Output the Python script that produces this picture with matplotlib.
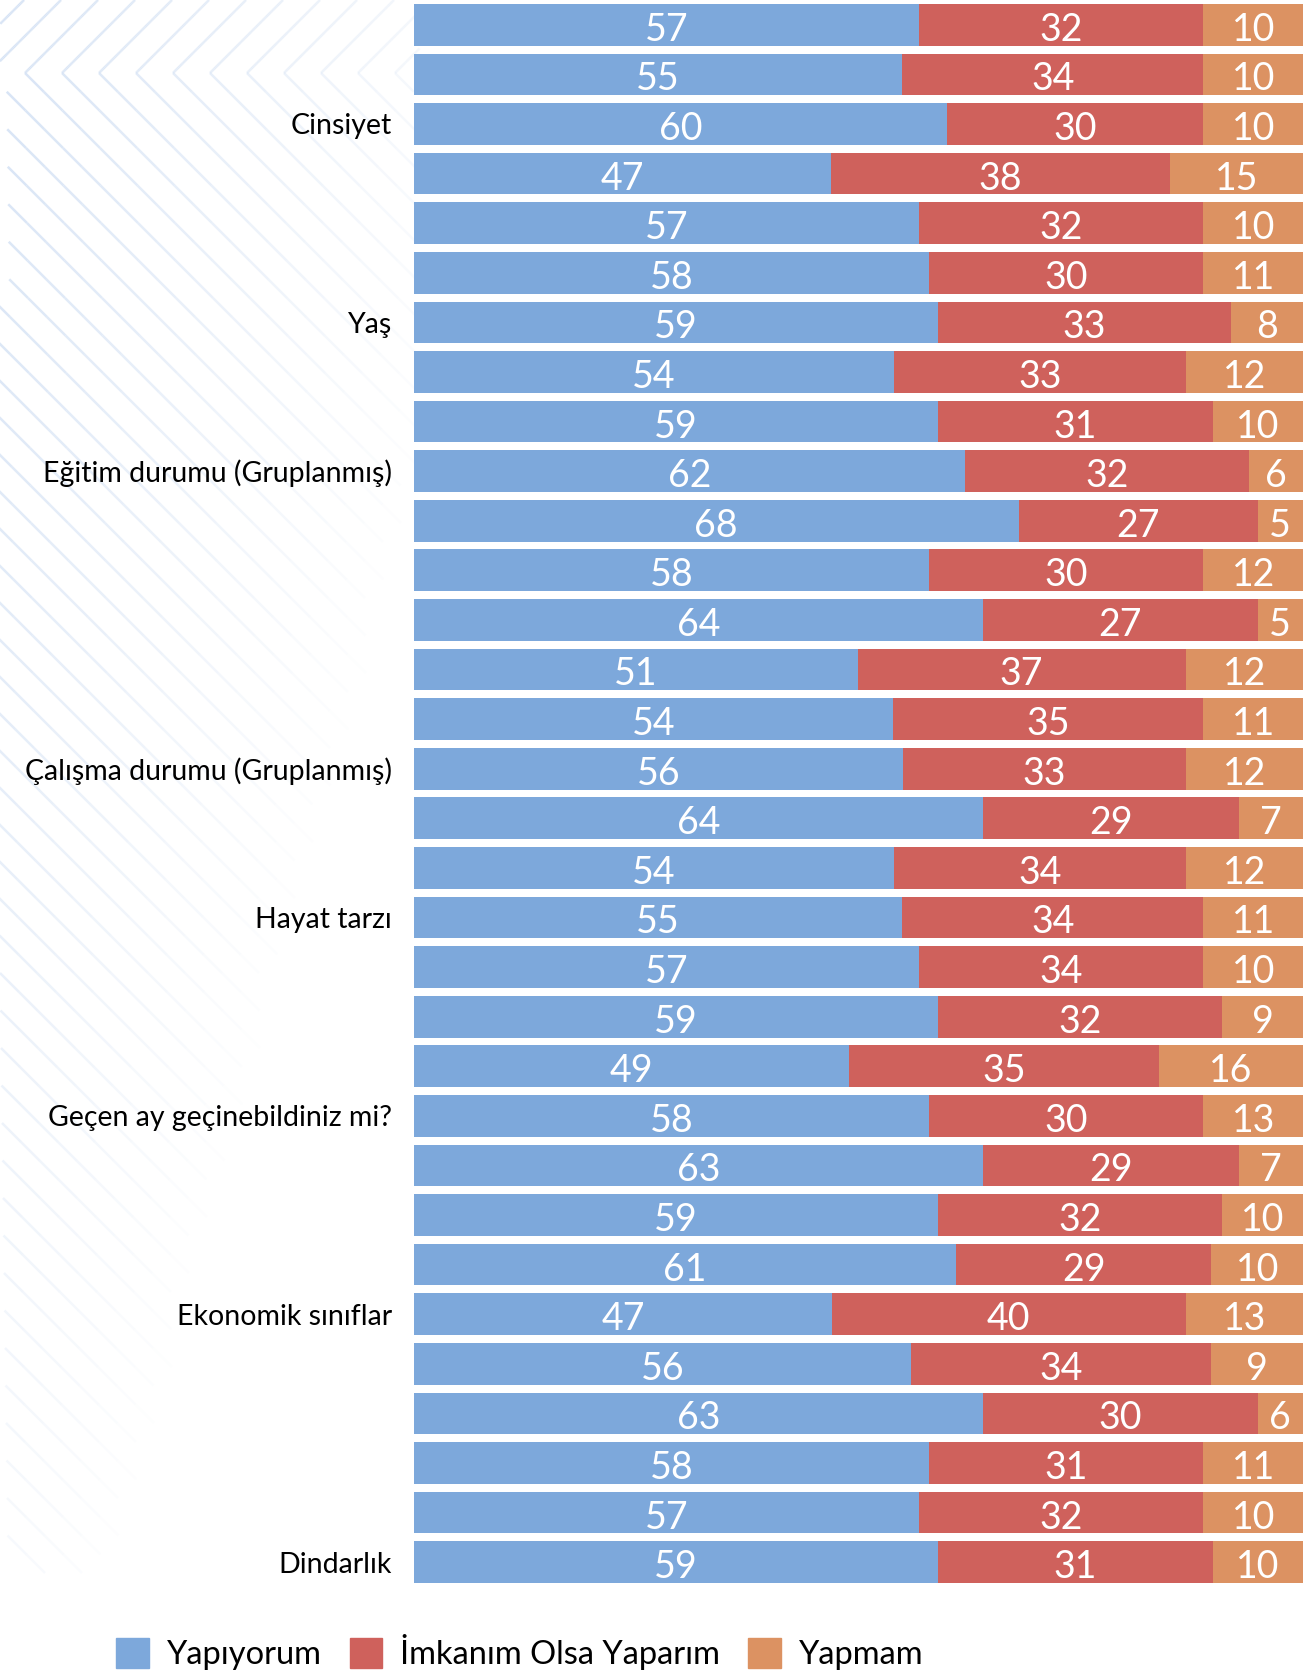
import matplotlib.pyplot as plt
import numpy as np
from matplotlib.collections import LineCollection
from matplotlib.patches import Patch

plt.rcParams['font.family'] = ['Lato', 'DejaVu Sans']

# etiketler (sadece grup satırlarında yazı var)
labels = ['', '', 'Cinsiyet', '', '', '', 'Yaş', '', '', 'Eğitim durumu (Gruplanmış)',
          '', '', '', '', '', 'Çalışma durumu (Gruplanmış)', '', '', 'Hayat tarzı', '',
          '', '', 'Geçen ay geçinebildiniz mi?', '', '', '', 'Ekonomik sınıflar', '', '', '',
          '', 'Dindarlık']

# çubukların üzerinde yazan değerler
yapiyorum = [57, 55, 60, 47, 57, 58, 59, 54, 59, 62, 68, 58, 64, 51, 54, 56,
             64, 54, 55, 57, 59, 49, 58, 63, 59, 61, 47, 56, 63, 58, 57, 59]
imkanim = [32, 34, 30, 38, 32, 30, 33, 33, 31, 32, 27, 30, 27, 37, 35, 33,
           29, 34, 34, 34, 32, 35, 30, 29, 32, 29, 40, 34, 30, 31, 32, 31]
yapmam = [10, 10, 10, 15, 10, 11, 8, 12, 10, 6, 5, 12, 5, 12, 11, 12,
          7, 12, 11, 10, 9, 16, 13, 7, 10, 10, 13, 9, 6, 11, 10, 10]

# çizilen çubuk genişlikleri (%), görselden okunmuş
yapiyorum_w = [56.8, 54.9, 60.0, 46.9, 56.8, 57.9, 58.9, 54.0, 58.9, 62.0, 68.0, 57.9,
               64.0, 49.9, 53.9, 55.0, 64.0, 54.0, 54.9, 56.8, 58.9, 48.9, 57.9, 64.0,
               58.9, 61.0, 47.0, 55.9, 64.0, 57.9, 56.8, 58.9]
imkanim_w = [32.0, 33.9, 28.8, 38.1, 32.0, 30.9, 33.0, 32.8, 31.0, 31.9, 26.9, 30.9,
             30.9, 36.9, 34.9, 31.8, 28.8, 32.8, 33.9, 32.0, 32.0, 34.9, 30.9, 28.8,
             32.0, 28.7, 39.8, 33.8, 30.9, 30.9, 32.0, 31.0]
yapmam_w = [11.2, 11.2, 11.2, 15.0, 11.2, 11.2, 8.1, 13.2, 10.1, 6.1, 5.1, 11.2,
            5.1, 13.2, 11.2, 13.2, 7.2, 13.2, 11.2, 11.2, 9.1, 16.2, 11.2, 7.2,
            9.1, 10.3, 13.2, 10.3, 5.1, 11.2, 11.2, 10.1]

series_names = ['Yapıyorum', 'İmkanım Olsa Yaparım', 'Yapmam']
colors = ['#7DA8DB', '#CF615C', '#DC9262']

W, H = 1303, 1673
fig = plt.figure(figsize=(W / 100, H / 100), dpi=100)

# arka plandaki çizgili desen
bg = fig.add_axes([0, 0, 1, 1], zorder=0)
bg.set_xlim(0, W)
bg.set_ylim(H, 0)
bg.axis('off')
segs, alphas = [], []
vy = 73
for k in range(-45, 12):
    vx = 25 + 37 * k
    lines = [((vx, vy), (vx + vy, 0)), ((vx, vy), (vx + 1500, vy + 1500))]
    for (x0, y0), (x1, y1) in lines:
        n = 80
        xs = np.linspace(x0, x1, n + 1)
        ys = np.linspace(y0, y1, n + 1)
        for i in range(n):
            xm, ym = (xs[i] + xs[i + 1]) / 2, (ys[i] + ys[i + 1]) / 2
            if xm < 0 or xm > 420 or ym < 0:
                continue
            a = 1.0 - xm / 560 - ym / 2000
            if a <= 0.03:
                continue
            segs.append([(xs[i], ys[i]), (xs[i + 1], ys[i + 1])])
            alphas.append(min(a, 1))
cols = [(0.84, 0.89, 0.96, a) for a in alphas]
bg.add_collection(LineCollection(segs, colors=cols, linewidths=1.8))

# ana grafik
ax = fig.add_axes([414 / W, 1 - 1587 / H, 1 - 414 / W, 1587 / H], zorder=1)
ax.patch.set_alpha(0)

y = np.arange(len(labels))
widths = [np.array(yapiyorum_w), np.array(imkanim_w), np.array(yapmam_w)]
values = [yapiyorum, imkanim, yapmam]
left = np.zeros(len(labels))
for i in range(3):
    ax.barh(y, widths[i], left=left, height=0.84, color=colors[i], label=series_names[i])
    for j in range(len(labels)):
        ax.text(left[j] + widths[i][j] / 2, y[j] + 0.1, str(values[i][j]),
                ha='center', va='center', color='white', fontsize=27)
    left += widths[i]

ax.set_xlim(0, 100)
ax.set_ylim(len(labels) - 0.5, -0.5)
ax.set_yticks(y)
ax.set_yticklabels(labels, fontsize=20.5)
ax.tick_params(axis='y', length=0, pad=16)
ax.set_xticks([])
for s in ax.spines.values():
    s.set_visible(False)

handles = [Patch(color=c) for c in colors]
fig.legend(handles, series_names, loc='center', bbox_to_anchor=(0.399, 0.0125),
           ncol=3, frameon=False, fontsize=23.5, handlelength=1.0, handleheight=1.0,
           handletextpad=0.55, columnspacing=0.85)

fig.savefig('out.png', dpi=100)
